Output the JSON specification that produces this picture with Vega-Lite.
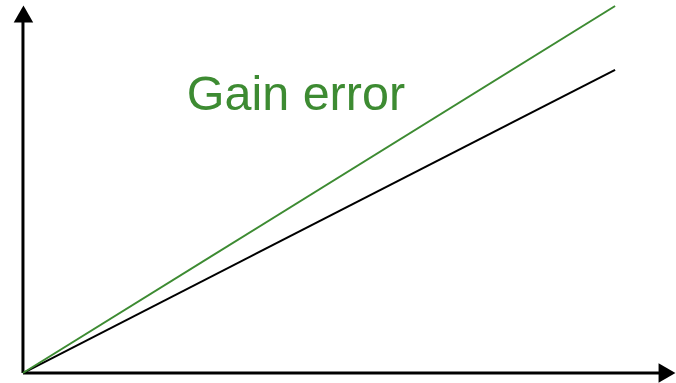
{
  "$schema": "https://vega.github.io/schema/vega-lite/v6.json",
  "width": 676,
  "height": 383,
  "padding": 0,
  "autosize": {"type": "fit", "contains": "padding"},
  "background": "white",
  "config": {"view": {"stroke": null}},
  "datasets": {
    "curves": [
      {"series": "ideal", "x": 0, "y": 0},
      {"series": "ideal", "x": 593, "y": 304},
      {"series": "gain", "x": 0, "y": 0},
      {"series": "gain", "x": 593, "y": 368}
    ],
    "axes": [
      {"x": 0, "y": 0, "x2": 0, "y2": 358},
      {"x": 0, "y": 0, "x2": 641, "y2": 0}
    ],
    "arrows": [
      {"x": 0.5, "y": 360, "shape": "triangle-up"},
      {"x": 645, "y": 0, "shape": "triangle-right"}
    ],
    "labels": [
      {"x": 164, "y": 264, "text": "Gain error"}
    ]
  },
  "resolve": {"scale": {"color": "independent"}},
  "layer": [
    {
      "data": {"name": "axes"},
      "mark": {"type": "rule", "strokeWidth": 3, "color": "black"},
      "encoding": {
        "x": {"field": "x", "type": "quantitative", "scale": {"domain": [-23, 653], "nice": false, "zero": false}, "axis": null},
        "y": {"field": "y", "type": "quantitative", "scale": {"domain": [-9, 374], "nice": false, "zero": false}, "axis": null},
        "x2": {"field": "x2"},
        "y2": {"field": "y2"}
      }
    },
    {
      "data": {"name": "arrows"},
      "mark": {"type": "point", "filled": true, "color": "black", "size": 380, "opacity": 1},
      "encoding": {
        "x": {"field": "x", "type": "quantitative"},
        "y": {"field": "y", "type": "quantitative"},
        "shape": {"field": "shape", "type": "nominal", "scale": null}
      }
    },
    {
      "data": {"name": "curves"},
      "mark": {"type": "line", "strokeWidth": 2},
      "encoding": {
        "x": {"field": "x", "type": "quantitative"},
        "y": {"field": "y", "type": "quantitative"},
        "detail": {"field": "series"},
        "color": {"field": "series", "type": "nominal", "scale": {"domain": ["ideal", "gain"], "range": ["#000000", "#3d8b32"]}, "legend": null}
      }
    },
    {
      "data": {"name": "labels"},
      "mark": {"type": "text", "align": "left", "baseline": "alphabetic", "font": "Liberation Sans", "fontSize": 48.5, "color": "#3d8b32"},
      "encoding": {
        "x": {"field": "x", "type": "quantitative"},
        "y": {"field": "y", "type": "quantitative"},
        "text": {"field": "text"}
      }
    }
  ]
}
